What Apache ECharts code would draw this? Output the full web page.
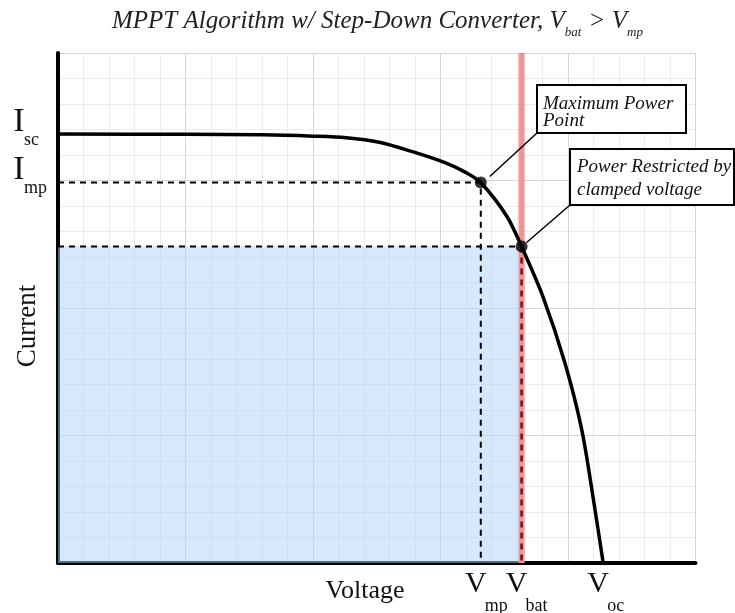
<!DOCTYPE html>
<html>
<head>
<meta charset="utf-8">
<script src="https://cdn.jsdelivr.net/npm/echarts@6/dist/echarts.min.js"></script>
<style>
    html, body { margin: 0; padding: 0; background: #ffffff; }
    #chart { width: 735px; height: 613px; }
</style>
</head>
<body>
<div id="chart"></div>
<script>
// =======================================
// MPPT – STEP-DOWN CONVERTER, Vbat > Vmp
// I-V curve, ECharts
// =======================================

// ======================
// DATA (arbitrary units, 1 unit = 1 minor grid cell)
// ======================
const curveVoltage = [0, 5, 8, 10, 11.3, 12.6, 13.9, 15.2, 16.04, 16.58, 17.6, 18.18, 19.02, 19.88, 20.54, 20.98, 21.38];
const curveCurrent = [16.82, 16.81, 16.79, 16.74, 16.68, 16.5, 16.13, 15.69, 15.29, 14.92, 13.6, 12.41, 10.44, 7.84, 5.22, 2.6, 0];

const Isc = 16.82;
const Imp = 14.92;
const Vmp = 16.58;
const Vbat = 18.18;
const Iclamp = 12.41;
const Voc = 21.38;

const xTickValues = [Vmp, Vbat, Voc];
const xTickMain = ["V", "V", "V"];
const xTickSub = ["mp", "bat", "oc"];

const yTickValues = [Isc, Imp];
const yTickMain = ["I", "I"];
const yTickSub = ["sc", "mp"];

// title pieces: [text, isSubscript]
const titleParts = [
    ["MPPT Algorithm w/ Step-Down Converter, V", false],
    ["bat", true],
    [" > V", false],
    ["mp", true]
];

const X_MAX = 25;
const Y_MAX = 20;

// ======================
// STYLE
// ======================
const SERIF = "Liberation Serif";
const COLORS = {
    curve: "#000000",
    fill: "#aed2f7",
    red: "#f29494",
    maroon: "#6e1320",
    minor: "#ececec",
    major: "#d6d6d6"
};

const chart = echarts.init(document.getElementById("chart"));

function axisBase(max) {
    return {
        type: "value",
        min: 0,
        max: max,
        interval: 5,
        axisLine: { show: true, onZero: false, lineStyle: { color: "#000", width: 4 } },
        axisTick: { show: false },
        axisLabel: { show: false },
        splitLine: { show: true, lineStyle: { color: COLORS.major, width: 1 } },
        minorTick: { show: false, splitNumber: 5 },
        minorSplitLine: { show: true, lineStyle: { color: COLORS.minor, width: 1 } }
    };
}

chart.setOption({
    animation: false,
    backgroundColor: "#ffffff",
    grid: { left: 58, right: 39.5, top: 53, bottom: 50 },
    xAxis: axisBase(X_MAX),
    yAxis: axisBase(Y_MAX),
    series: [
        // shaded power rectangle
        {
            type: "line",
            data: [[0, Iclamp], [Vbat, Iclamp]],
            symbol: "none",
            lineStyle: { width: 0 },
            areaStyle: { color: COLORS.fill, opacity: 0.5 },
            z: 1
        },
        // clamped battery voltage
        {
            type: "line",
            data: [[Vbat, 0], [Vbat, Y_MAX]],
            symbol: "none",
            lineStyle: { color: COLORS.red, width: 6 },
            z: 2
        },
        // dashed guides
        {
            type: "line",
            data: [[0, Imp], [Vmp, Imp], [Vmp, 0]],
            symbol: "none",
            lineStyle: { color: "#000", width: 2, type: [6, 5] },
            z: 3
        },
        {
            type: "line",
            data: [[0, Iclamp], [Vbat, Iclamp]],
            symbol: "none",
            lineStyle: { color: "#000", width: 2, type: [6, 5] },
            z: 3
        },
        {
            type: "line",
            data: [[Vbat, Iclamp], [Vbat, 0]],
            symbol: "none",
            lineStyle: { color: COLORS.maroon, width: 2.5, type: [6, 5] },
            z: 3
        },
        // I-V curve
        {
            type: "line",
            data: curveVoltage.map((v, i) => [v, curveCurrent[i]]),
            smooth: 0.3,
            symbol: "none",
            lineStyle: { color: COLORS.curve, width: 3.5 },
            z: 4
        },
        // operating points
        {
            type: "scatter",
            data: [[Vmp, Imp], [Vbat, Iclamp]],
            symbolSize: 12,
            itemStyle: { color: "#000" },
            z: 5
        }
    ]
});

// ======================
// LABELS + CALLOUTS
// ======================
const measureCtx = document.createElement("canvas").getContext("2d");
function textWidth(str, font) {
    measureCtx.font = font;
    return measureCtx.measureText(str).width;
}

function buildGraphics() {
    const px = (x, y) => chart.convertToPixel({ gridIndex: 0 }, [x, y]);
    const g = [];

    // title with subscripts
    const fMain = "italic 25px " + SERIF;
    const fSub = "italic 13px " + SERIF;
    let tx = 112;
    titleParts.forEach(([t, sub]) => {
        const font = sub ? fSub : fMain;
        g.push({ type: "text", x: tx, y: sub ? 33 : 21, style: { text: t, font: font, fill: "#222", textAlign: "left", textVerticalAlign: "middle" } });
        tx += textWidth(t, font) + (sub ? 1 : 0);
    });

    xTickValues.forEach((v, i) => {
        const p = px(v, 0);
        g.push({ type: "text", x: p[0] - 5, y: 584, style: { text: xTickMain[i], font: "30px " + SERIF, fill: "#111", textAlign: "center", textVerticalAlign: "middle" } });
        g.push({ type: "text", x: p[0] + 4, y: 606, style: { text: xTickSub[i], font: "18px " + SERIF, fill: "#111", textAlign: "left", textVerticalAlign: "middle" } });
    });

    yTickValues.forEach((v, i) => {
        const p = px(0, v);
        g.push({ type: "text", x: 19, y: p[1] - 12, style: { text: yTickMain[i], font: "34px " + SERIF, fill: "#111", textAlign: "center", textVerticalAlign: "middle" } });
        g.push({ type: "text", x: 24, y: p[1] + 6, style: { text: yTickSub[i], font: "18px " + SERIF, fill: "#111", textAlign: "left", textVerticalAlign: "middle" } });
    });

    g.push({ type: "text", x: 365, y: 591, style: { text: "Voltage", font: "26px " + SERIF, fill: "#111", textAlign: "center", textVerticalAlign: "middle" } });
    g.push({ type: "text", x: 28, y: 326, rotation: Math.PI / 2, style: { text: "Current", font: "27px " + SERIF, fill: "#111", textAlign: "center", textVerticalAlign: "middle" } });

    // callout: maximum power point
    const mpp = px(Vmp, Imp);
    g.push({ type: "line", shape: { x1: 537, y1: 133, x2: mpp[0] + 9, y2: mpp[1] - 6 }, style: { stroke: "#000", lineWidth: 1.5 }, z: 10 });
    g.push({ type: "rect", shape: { x: 537, y: 85, width: 149, height: 48 }, style: { fill: "#fff", stroke: "#000", lineWidth: 2 }, z: 10 });
    g.push({ type: "text", x: 543, y: 112, style: { text: "Maximum Power\nPoint", font: "italic 19px " + SERIF, fill: "#111", lineHeight: 17, textVerticalAlign: "middle" }, z: 11 });

    // callout: clamped point
    const clp = px(Vbat, Iclamp);
    g.push({ type: "line", shape: { x1: 570, y1: 205, x2: clp[0] + 5, y2: clp[1] - 4 }, style: { stroke: "#000", lineWidth: 1.5 }, z: 10 });
    g.push({ type: "rect", shape: { x: 570, y: 149, width: 164, height: 56 }, style: { fill: "#fff", stroke: "#000", lineWidth: 2 }, z: 10 });
    g.push({ type: "text", x: 577, y: 178, style: { text: "Power Restricted by\nclamped voltage", font: "italic 19px " + SERIF, fill: "#111", lineHeight: 23, textVerticalAlign: "middle" }, z: 11 });

    chart.setOption({ graphic: g });
}

buildGraphics();
</script>
</body>
</html>
